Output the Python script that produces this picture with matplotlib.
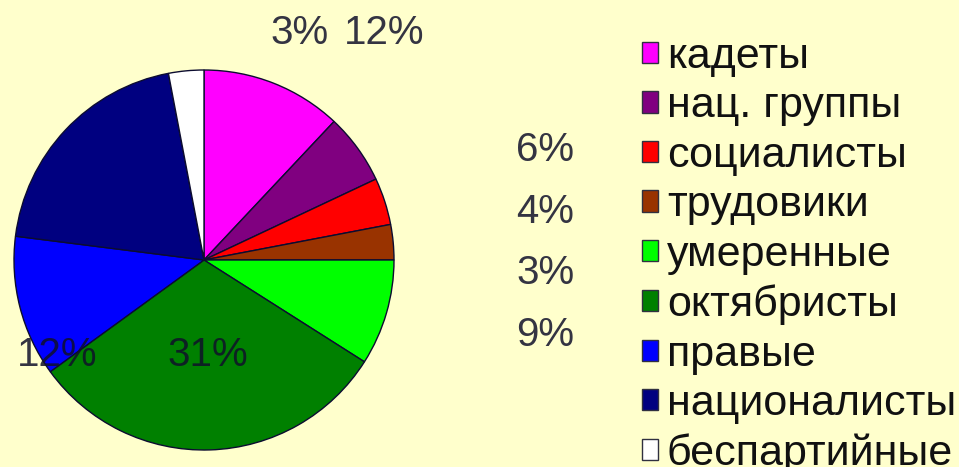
import matplotlib
matplotlib.use("Agg")
from matplotlib import pyplot as plt
from matplotlib.patches import Patch

# fractions of deputies, %
parties = ["кадеты", "нац. группы", "социалисты", "трудовики", "умеренные",
           "октябристы", "правые", "националисты", "беспартийные"]
shares = [12, 6, 4, 3, 9, 31, 12, 20, 3]
colors = ["#FF00FF", "#800080", "#FF0000", "#993300", "#00FF00",
          "#008000", "#0000FF", "#000080", "#FFFFFF"]

# where each percent label sits (pie units, radius = 1); None = not shown
label_pos = [(0.95, 1.195), (1.795, 0.58), (1.795, 0.255), (1.795, -0.07),
             (1.795, -0.395), (0.02, -0.5), (-0.775, -0.5), None, (0.505, 1.195)]

bg = "#FFFFCC"
text_col = "#10102a"

plt.rcParams["font.family"] = ["Liberation Sans", "DejaVu Sans"]

fig = plt.figure(figsize=(9.59, 4.67), dpi=100, facecolor=bg)

# pie centre at (204, 260) px, radius 190 px
cx, cy, r = 204, 260, 190
W, H = 959, 467
ax = fig.add_axes([(cx - r) / W, (H - cy - r) / H, 2 * r / W, 2 * r / H])
wedges, _ = ax.pie(shares, colors=colors, startangle=90, counterclock=False,
                   wedgeprops=dict(edgecolor="#0c0c30", linewidth=1.0))
ax.set_xlim(-1, 1)
ax.set_ylim(-1, 1)
ax.set_aspect("equal")
ax.set_facecolor(bg)

for v, pos in zip(shares, label_pos):
    if pos is None:
        continue
    ax.text(pos[0], pos[1], f"{v}%", ha="center", va="center", fontsize=29,
            color=text_col, alpha=0.85, clip_on=False)

handles = [Patch(facecolor=c, edgecolor="#303040", linewidth=1.0) for c in colors]
fig.legend(handles, parties, loc="upper left", bbox_to_anchor=(642 / W, 1 - 37 / H),
           frameon=False, fontsize=31, handlelength=0.38, handleheight=0.38,
           handletextpad=0.2, labelspacing=0.22, borderpad=0, borderaxespad=0,
           labelcolor="#111111")

fig.savefig("out.png", dpi=100, facecolor=bg)
